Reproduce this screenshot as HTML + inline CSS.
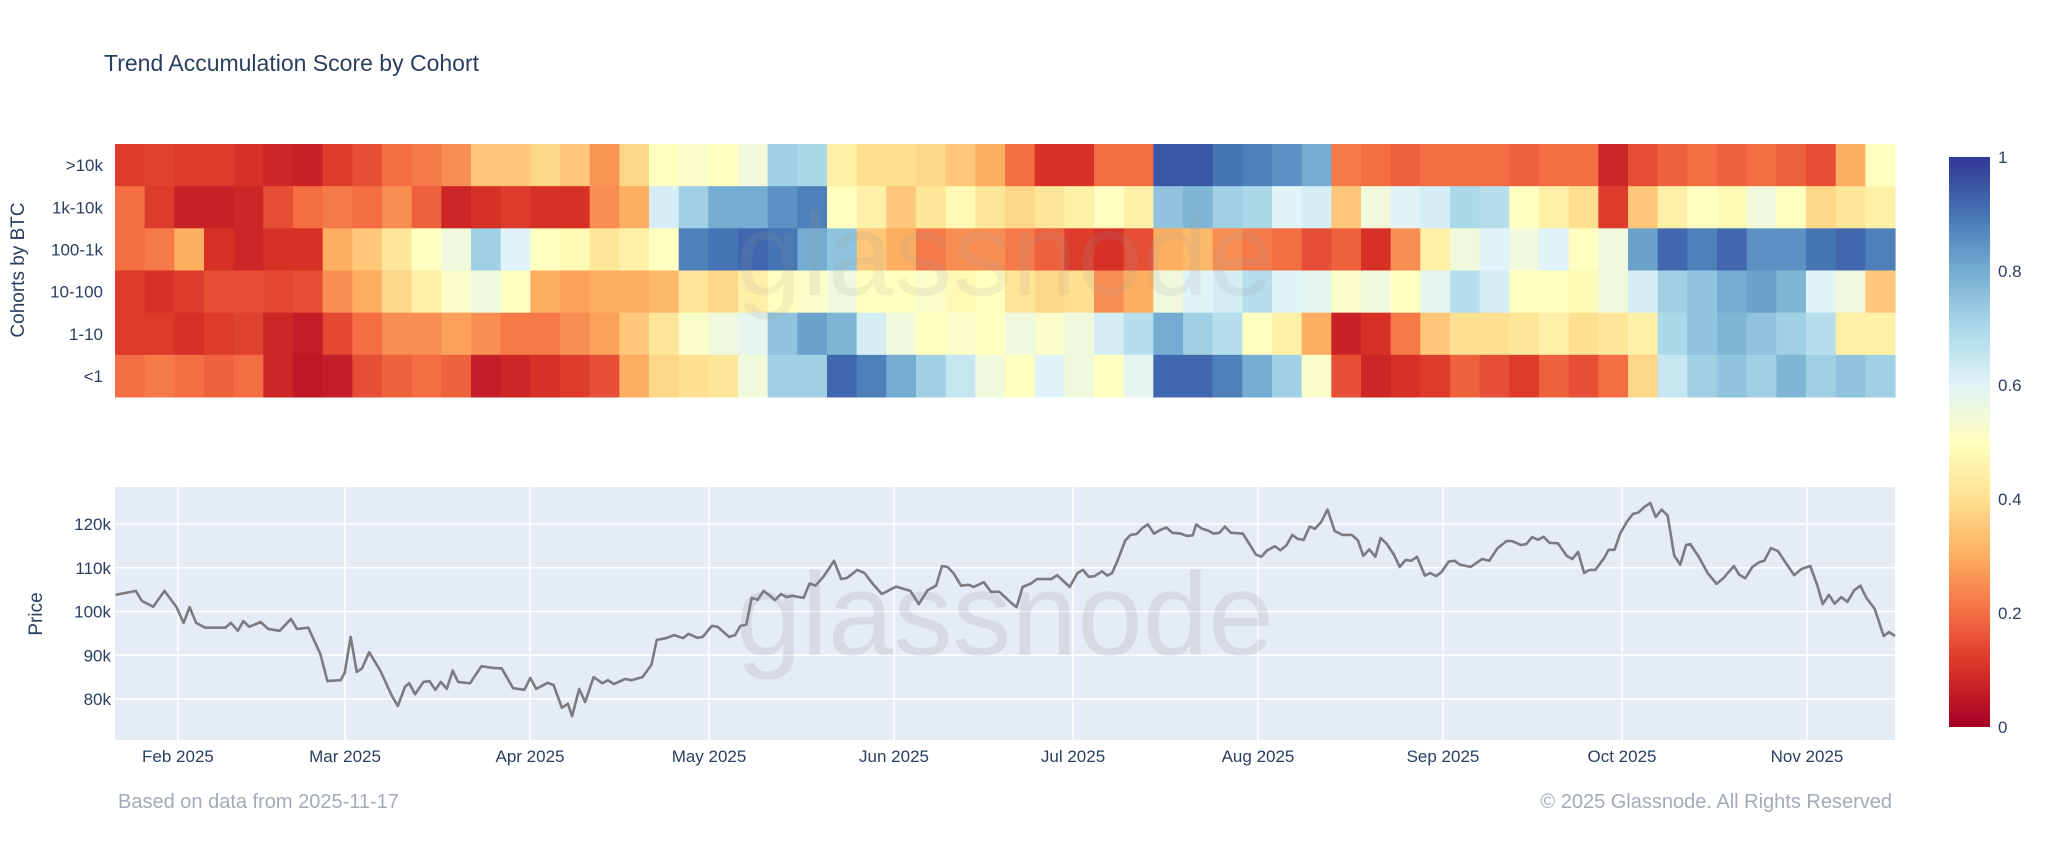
<!DOCTYPE html>
<html><head><meta charset="utf-8">
<style>
html,body{margin:0;padding:0;background:#fff;}
body{width:2048px;height:857px;overflow:hidden;font-family:"Liberation Sans",sans-serif;}
svg text{font-family:"Liberation Sans",sans-serif;}
</style></head>
<body>
<svg id="chart" width="2048" height="857" xmlns="http://www.w3.org/2000/svg">
<defs>
<linearGradient id="cbgrad" x1="0" y1="1" x2="0" y2="0">
<stop offset="0" stop-color="#a50026"/><stop offset="0.1" stop-color="#d73027"/><stop offset="0.2" stop-color="#f46d43"/><stop offset="0.3" stop-color="#fdae61"/><stop offset="0.4" stop-color="#fee090"/><stop offset="0.5" stop-color="#ffffbf"/><stop offset="0.6" stop-color="#e0f3f8"/><stop offset="0.7" stop-color="#abd9e9"/><stop offset="0.8" stop-color="#74add1"/><stop offset="0.9" stop-color="#4575b4"/><stop offset="1" stop-color="#313695"/>
</linearGradient>
</defs>
<text x="104" y="71" font-size="23" fill="#2a3f5f">Trend Accumulation Score by Cohort</text>
<g id="heat"></g>
<text transform="translate(24,270) rotate(-90)" text-anchor="middle" font-size="19" fill="#2a3f5f">Cohorts by BTC</text>
<rect x="115" y="487" width="1780" height="253" fill="#e5ecf6"/>
<g id="pgrid"></g>
<text x="1005" y="655" text-anchor="middle" font-size="118" fill="#9a9a9a" fill-opacity="0.2">glassnode</text>
<g id="price"></g>
<text transform="translate(42,614) rotate(-90)" text-anchor="middle" font-size="19" fill="#2a3f5f">Price</text>
<text x="1005" y="295" text-anchor="middle" font-size="118" fill="#9a9a9a" fill-opacity="0.14">glassnode</text>
<rect x="1949" y="157" width="41" height="570" fill="url(#cbgrad)"/>
<g id="cbticks"></g>
<text x="118" y="808" font-size="20" fill="#a3abb6">Based on data from 2025-11-17</text>
<text x="1892" y="808" text-anchor="end" font-size="20" fill="#a3abb6">© 2025 Glassnode. All Rights Reserved</text>
</svg>
<script>
const cohorts = [">10k","1k-10k","100-1k","10-100","1-10","<1"];
const score_gt10k = [0.12,0.13,0.12,0.12,0.1,0.08,0.07,0.12,0.15,0.2,0.22,0.25,0.35,0.35,0.38,0.35,0.26,0.38,0.5,0.52,0.5,0.55,0.72,0.7,0.45,0.4,0.4,0.38,0.35,0.3,0.2,0.1,0.1,0.2,0.2,0.95,0.95,0.9,0.88,0.85,0.8,0.22,0.2,0.18,0.2,0.2,0.2,0.18,0.2,0.2,0.08,0.15,0.18,0.2,0.18,0.2,0.18,0.15,0.3,0.5];
const score_1k10k = [0.2,0.12,0.07,0.07,0.08,0.15,0.2,0.22,0.2,0.25,0.18,0.08,0.1,0.12,0.1,0.1,0.25,0.3,0.62,0.72,0.8,0.8,0.85,0.88,0.5,0.45,0.35,0.42,0.48,0.42,0.38,0.42,0.45,0.5,0.45,0.75,0.78,0.72,0.7,0.6,0.62,0.35,0.55,0.6,0.62,0.7,0.68,0.5,0.45,0.4,0.12,0.35,0.45,0.5,0.48,0.55,0.5,0.38,0.42,0.45];
const score_100_1k = [0.2,0.22,0.3,0.1,0.08,0.1,0.1,0.3,0.35,0.42,0.5,0.55,0.72,0.6,0.5,0.48,0.42,0.45,0.5,0.88,0.9,0.92,0.9,0.8,0.75,0.35,0.3,0.22,0.25,0.25,0.22,0.18,0.12,0.1,0.15,0.3,0.32,0.25,0.22,0.2,0.15,0.18,0.1,0.25,0.45,0.55,0.6,0.55,0.6,0.5,0.55,0.82,0.92,0.88,0.92,0.85,0.85,0.9,0.92,0.88];
const score_10_100 = [0.12,0.1,0.12,0.15,0.15,0.14,0.15,0.25,0.3,0.38,0.45,0.52,0.55,0.5,0.3,0.28,0.3,0.3,0.32,0.42,0.38,0.45,0.5,0.52,0.55,0.5,0.5,0.52,0.48,0.5,0.42,0.38,0.4,0.25,0.3,0.55,0.6,0.62,0.68,0.6,0.58,0.52,0.55,0.5,0.58,0.68,0.62,0.5,0.5,0.48,0.55,0.62,0.72,0.75,0.8,0.82,0.78,0.6,0.55,0.35];
const score_1_10 = [0.12,0.12,0.1,0.12,0.13,0.08,0.06,0.14,0.2,0.25,0.25,0.28,0.25,0.22,0.22,0.25,0.28,0.35,0.42,0.52,0.55,0.58,0.75,0.82,0.78,0.62,0.55,0.5,0.52,0.5,0.55,0.52,0.55,0.62,0.68,0.8,0.72,0.68,0.5,0.45,0.3,0.07,0.1,0.22,0.35,0.4,0.4,0.42,0.45,0.4,0.42,0.45,0.7,0.75,0.78,0.75,0.72,0.68,0.45,0.45];
const score_lt1 = [0.2,0.22,0.2,0.18,0.2,0.08,0.05,0.06,0.15,0.18,0.2,0.18,0.06,0.08,0.1,0.12,0.15,0.3,0.38,0.4,0.42,0.55,0.72,0.72,0.92,0.88,0.8,0.72,0.65,0.55,0.5,0.6,0.55,0.5,0.58,0.92,0.92,0.88,0.8,0.72,0.52,0.15,0.08,0.1,0.12,0.18,0.15,0.12,0.18,0.15,0.2,0.38,0.65,0.72,0.75,0.72,0.78,0.72,0.75,0.72];
const priceDay = [0.1,3.5,4.5,6.4,8.3,10.3,11.5,12.5,13.6,15.1,18.5,19.4,20.6,21.5,22.5,24.4,25.7,27.6,29.5,30.5,32.4,34.4,35.6,37.8,38.5,39.5,40.5,41.4,42.6,44.5,46.4,47.4,48.6,49.3,50.3,51.7,52.7,53.7,54.6,55.6,56.6,57.5,59.5,61.4,63.3,64.8,66.7,68.6,69.6,70.6,72.5,73.5,74.9,75.9,76.6,77.8,78.8,80.2,81.7,82.6,83.6,85.5,86.5,88.4,89.9,90.8,92.3,93.7,95.2,96.1,97.6,98.5,100,101,102.9,103.9,104.8,105.8,106.7,107.7,108.7,109.6,110.6,111.6,112.5,113.5,115.4,116.4,117.4,118.8,120.5,121.7,122.7,124.4,125.6,127,128.5,130.9,133.3,134.7,136.2,137.6,138.6,139.5,140.5,141.8,143.1,143.9,145.6,146.8,148.2,150.4,151.1,152.1,153.5,154.5,156.9,157.9,160,161.3,162.2,163.2,164.2,165.4,166.3,167.1,168,169.3,170.2,171.2,172.2,173.1,174.1,175.3,176.2,177.2,178.6,179.6,180.6,181.2,182.2,183.2,184.1,185.1,186,187,189,190.2,191.2,192.1,193.1,194.4,195.3,196.3,197.3,198.2,199.2,200.2,201.1,202.1,203.2,204.4,205.7,207.3,208.3,209.2,210.2,211.2,212.1,213.1,214.3,215.3,216.3,217.2,218.2,219.5,220.4,221.4,222.3,223.5,224.5,225.4,227.2,229.1,230.3,231.7,233.2,234.1,235.6,236.5,237.5,238.5,239.4,240.4,241.8,243.3,244.2,245.2,246.2,247.1,248.1,249.6,250.3,251.3,252.3,253.4,254.4,255.3,256.3,257.3,258.2,259.2,260.2,261.3,262.3,263.3,264,265.5,266.9,268.4,269.6,271.3,272.2,273.2,274.4,275.6,276.4,277.5,278.7,280.2,281.4,282.6,284.1,285.3,286.2,287.2,288.2,289.3,290.3,291.5,292.5,293.5,294.9,296.4,297.3,298.3];
const priceK = [103.8,104.7,102.4,101.1,104.7,101,97.4,101,97.4,96.3,96.3,97.4,95.6,97.8,96.5,97.6,96,95.6,98.3,96,96.3,90.3,84.1,84.3,86,94.2,86.2,87,90.7,86.4,80.7,78.4,82.8,83.6,81.1,83.9,84.1,82.1,83.9,82.3,86.5,83.9,83.6,87.5,87.1,87,82.5,82.1,84.8,82.3,83.7,83.2,78,78.9,76.1,82.3,79.3,85,83.6,84.3,83.4,84.6,84.3,85,87.8,93.5,93.9,94.6,93.9,94.9,94,94.2,96.7,96.5,94.2,94.6,96.7,97,103.1,102.7,104.7,103.8,102.6,104,103.3,103.6,103.1,106.4,105.9,108.1,111.6,107.4,107.7,109.5,108.8,106.3,104,105.7,104.7,101.7,104.9,105.9,110.4,110.2,108.8,105.9,106.1,105.6,106.7,104.5,104.5,101.7,101,105.6,106.4,107.4,107.4,108.3,105.6,108.8,109.5,107.9,108.1,109.2,108.2,108.8,111.6,116.2,117.5,117.7,119.1,119.9,117.8,118.7,119.2,118,117.8,117.3,117.4,119.9,118.9,118.5,117.8,118,119.4,118,117.8,115.2,113,112.5,114,114.9,114,115.1,117.5,116.6,116.4,119.4,118.9,120.4,123.3,118.4,117.5,117.5,116.2,112.7,114.2,112.5,116.8,115.5,113,110.2,111.8,111.6,112.5,108.2,108.8,108.1,109,111.4,111.6,110.7,110.2,112,111.6,114.5,116.1,116.1,115.2,115.4,117,116.4,117.1,115.7,115.6,112.7,112,113.6,108.8,109.5,109.5,112.3,114.1,114.1,118,120.6,122.3,122.6,123.9,124.8,121.6,123.3,121.9,112.8,110.7,115.2,115.4,112.3,108.8,106.3,107.7,110.4,108.4,107.6,110.2,111.3,111.6,114.5,113.8,110.7,108.3,109.7,110.4,105.9,101.7,103.8,101.8,103.3,102.2,104.9,105.9,103.1,100.6,94.4,95.3,94.4];
const priceTicks = [80,90,100,110,120];
const monthLabels = ["Feb 2025","Mar 2025","Apr 2025","May 2025","Jun 2025","Jul 2025","Aug 2025","Sep 2025","Oct 2025","Nov 2025"];
const monthDOY = [31,59,90,120,151,181,212,243,273,304];
const colorTicks = [0,0.2,0.4,0.6,0.8,1];

const NS="http://www.w3.org/2000/svg";
const X0=115, X1=1895, startDOY=20.45, spanDays=298.3;
const xDay = d => X0 + d/spanDays*(X1-X0);
const xDOY = doy => xDay(doy-startDOY);
const HY0=144, HY1=397;
const yPrice = p => 699 - (p-80)*(699-524)/40;
const stops=[[165,0,38],[215,48,39],[244,109,67],[253,174,97],[254,224,144],[255,255,191],[224,243,248],[171,217,233],[116,173,209],[69,117,180],[49,54,149]];
function color(v){v=Math.max(0,Math.min(1,v));const t=v*10,i=Math.min(9,Math.floor(t)),f=t-i;const a=stops[i],b=stops[i+1];return `rgb(${a.map((c,k)=>Math.round(c+(b[k]-c)*f)).join(',')})`;}
function mk(tag,attrs,parent){const e=document.createElementNS(NS,tag);for(const k in attrs)e.setAttribute(k,attrs[k]);parent.appendChild(e);return e;}

const heat=document.getElementById('heat');
const rows=[score_gt10k,score_1k10k,score_100_1k,score_10_100,score_1_10,score_lt1];
const rowH=(HY1-HY0)/rows.length;
rows.forEach((vals,r)=>{
  const cellDays=spanDays/vals.length;
  vals.forEach((v,i)=>{
    const x=xDay(i*cellDays), x2=xDay((i+1)*cellDays);
    const c=mk('rect',{x:x.toFixed(2),y:(HY0+r*rowH).toFixed(2),width:(x2-x+0.6).toFixed(2),height:(rowH+0.5).toFixed(2),fill:color(v)},heat);
    
    
  });
  const t=mk('text',{x:103,y:(HY0+(r+0.5)*rowH+6).toFixed(1),'text-anchor':'end','font-size':17,fill:'#2a3f5f'},heat);
  t.textContent=cohorts[r];
  
  
});

const g=document.getElementById('pgrid');
monthDOY.forEach((d,i)=>{
  const x=xDOY(d);
  const l=mk('line',{x1:x,x2:x,y1:487,y2:740,stroke:'#fff','stroke-width':1.5},g);
  
  
  const t=mk('text',{x:x,y:762,'text-anchor':'middle','font-size':17,fill:'#2a3f5f'},g);
  t.textContent=monthLabels[i];
  
  
});
priceTicks.forEach(p=>{
  const y=yPrice(p);
  const l=mk('line',{x1:X0,x2:X1,y1:y,y2:y,stroke:'#fff','stroke-width':1.5},g);
  
  
  const t=mk('text',{x:111,y:y+6,'text-anchor':'end','font-size':17,fill:'#2a3f5f'},g);
  t.textContent=p+'k';
  
  
});
const pts=priceDay.map((d,i)=>xDay(d).toFixed(1)+','+yPrice(priceK[i]).toFixed(1)).join(' ');
const line=mk('polyline',{points:pts,fill:'none',stroke:'#7b7b80','stroke-width':2.6,'stroke-linejoin':'round'},document.getElementById('price'));



const cb=document.getElementById('cbticks');
colorTicks.forEach(v=>{
  const y=727-v*570;
  const t=mk('text',{x:1998,y:y+6,'font-size':17,fill:'#2a3f5f'},cb);
  t.textContent=String(v);
  
  
});
</script>
</body></html>
